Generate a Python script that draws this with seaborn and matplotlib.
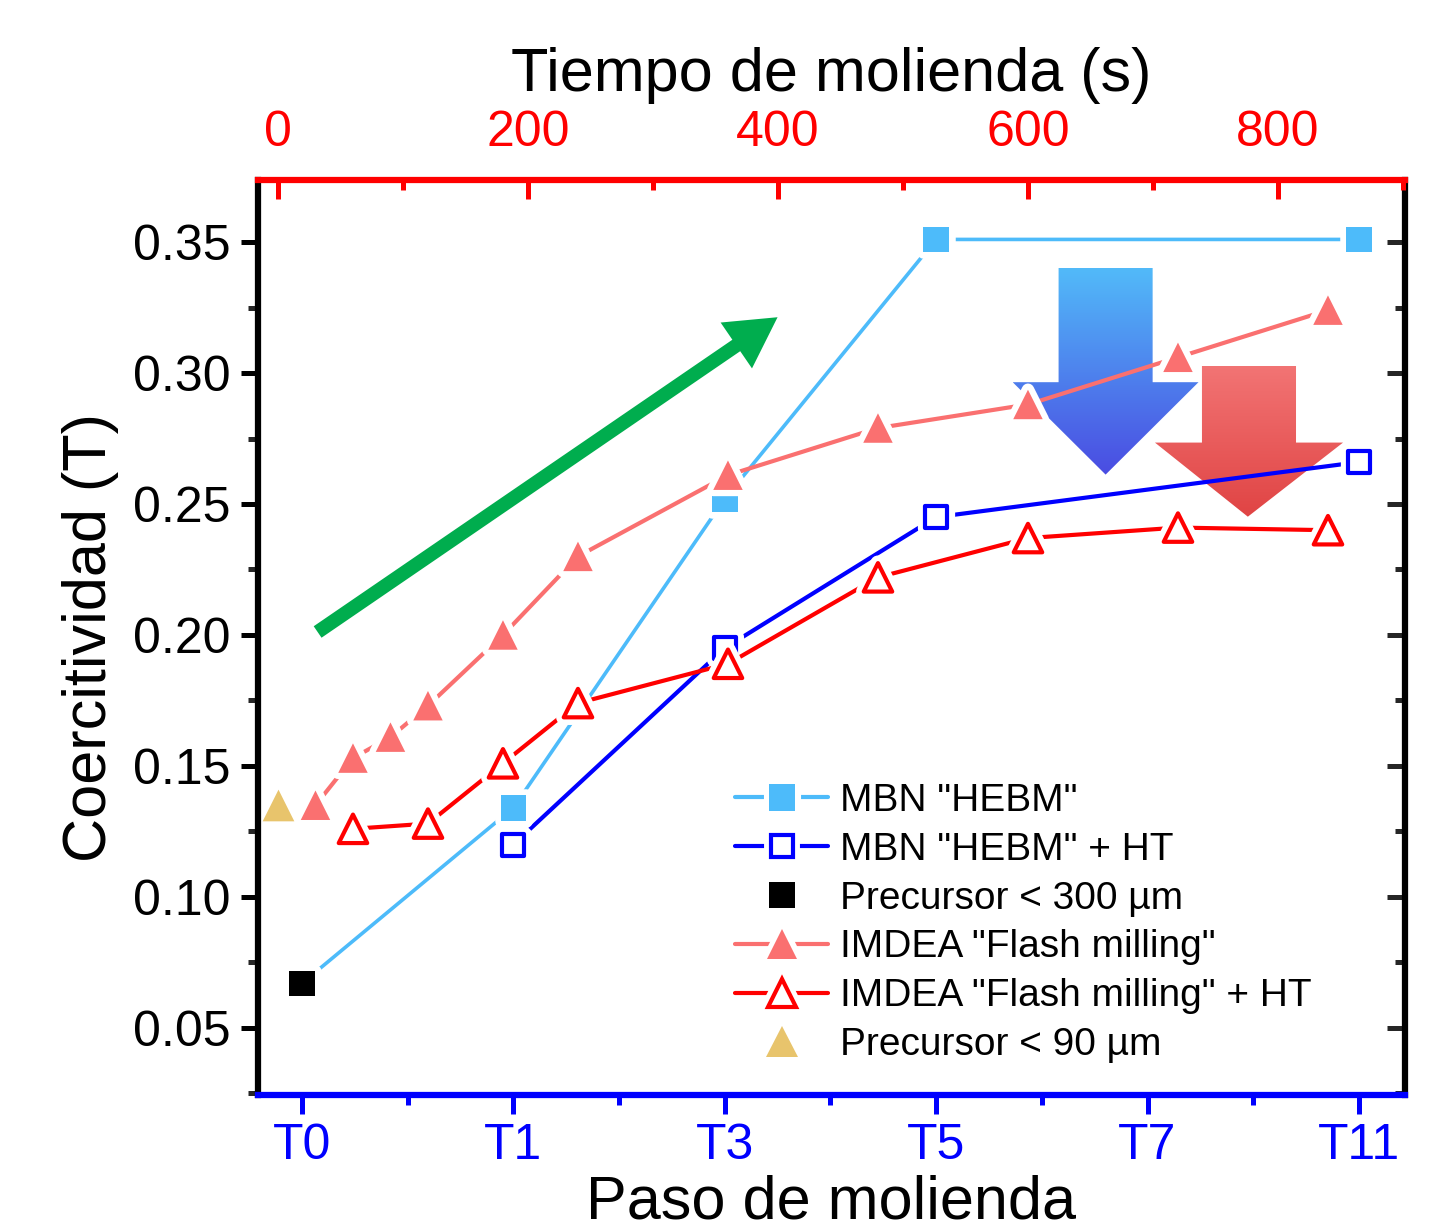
import numpy as np
import matplotlib as mpl
import matplotlib.pyplot as plt
import matplotlib.patheffects as pe
from matplotlib.lines import Line2D
from matplotlib.patches import Polygon
from matplotlib.ticker import MultipleLocator, FixedLocator
from matplotlib.legend_handler import HandlerTuple
import seaborn as sns

# milling steps (bottom axis, evenly spaced categories)
steps = ["T0", "T1", "T3", "T5", "T7", "T11"]

# MBN "HEBM" (starts from the <300 um precursor at T0)
hebm_x = [0, 1, 2, 3, 5]
hebm_y = [0.067, 0.134, 0.252, 0.351, 0.351]

# MBN "HEBM" + HT
hebm_ht_x = [1, 2, 3, 5]
hebm_ht_y = [0.120, 0.195, 0.245, 0.266]

# IMDEA "Flash milling" (top axis, seconds)
flash_t = [30, 60, 90, 120, 180, 240, 360, 480, 600, 720, 840]
flash_y = [0.135, 0.153, 0.161, 0.173, 0.200, 0.230, 0.261, 0.279, 0.288, 0.306, 0.324]

# IMDEA "Flash milling" + HT
flash_ht_t = [60, 120, 180, 240, 360, 480, 600, 720, 840]
flash_ht_y = [0.126, 0.128, 0.151, 0.174, 0.189, 0.222, 0.237, 0.241, 0.240]

# precursors
prec300_x, prec300_y = [0], [0.067]
prec90_t, prec90_y = [0], [0.135]

c_light = "#4DBBFA"
c_blue = "#0000FF"
c_pink = "#FA7070"
c_red = "#FF0000"
c_gold = "#E8C46C"

sns.set_theme(style="ticks")
plt.rcParams["font.family"] = ["Liberation Sans", "DejaVu Sans"]
plt.rcParams["text.color"] = "black"

fig = plt.figure(figsize=(14.3, 12.31), dpi=100)
ax = fig.add_axes([0.1804, 0.1105, 0.8021, 0.7433])
ax2 = ax.twiny()

halo = [pe.withStroke(linewidth=9, foreground="white")]
halo_open = [pe.withStroke(linewidth=11, foreground="white")]

# --- bottom axis series
sns.lineplot(x=hebm_x, y=hebm_y, ax=ax, color=c_light, lw=2.6, sort=False,
             errorbar=None, zorder=2)
sns.lineplot(x=hebm_ht_x, y=hebm_ht_y, ax=ax, color=c_blue, lw=3, sort=False,
             errorbar=None, zorder=2)
sns.scatterplot(x=hebm_x[1:], y=hebm_y[1:], ax=ax, marker="s", s=340,
                color=c_light, linewidth=0, path_effects=halo, zorder=3)
sns.scatterplot(x=hebm_ht_x, y=hebm_ht_y, ax=ax, marker="s", s=250,
                facecolor="white", edgecolor=c_blue, linewidth=3,
                path_effects=halo_open, zorder=3)
sns.scatterplot(x=prec300_x, y=prec300_y, ax=ax, marker="s", s=330,
                color="black", linewidth=0, path_effects=halo, zorder=3)

# --- top axis series
sns.lineplot(x=flash_t, y=flash_y, ax=ax2, color=c_pink, lw=3, sort=False,
             errorbar=None, zorder=2)
sns.lineplot(x=flash_ht_t, y=flash_ht_y, ax=ax2, color=c_red, lw=3, sort=False,
             errorbar=None, zorder=2)
sns.scatterplot(x=flash_t, y=flash_y, ax=ax2, marker="^", s=450,
                color=c_pink, linewidth=0, path_effects=halo, zorder=3)
sns.scatterplot(x=flash_ht_t, y=flash_ht_y, ax=ax2, marker="^", s=420,
                facecolor="white", edgecolor=c_red, linewidth=3,
                path_effects=halo_open, zorder=3)
sns.scatterplot(x=prec90_t, y=prec90_y, ax=ax2, marker="^", s=520,
                color=c_gold, linewidth=0, zorder=3)

# --- decorative arrows (axes fraction coords)
ax.annotate("", xy=(0.453, 0.850), xytext=(0.052, 0.506),
            xycoords="axes fraction", textcoords="axes fraction",
            arrowprops=dict(arrowstyle="simple,head_length=0.72,head_width=0.8,tail_width=0.2",
                            color="#00AD4E", mutation_scale=50, lw=0, shrinkA=0, shrinkB=0),
            zorder=1)


def grad_arrow(shaft_x, top, neck, head_x, tip, c_top, c_bot):
    pts = [(shaft_x[0], top), (shaft_x[1], top), (shaft_x[1], neck), (head_x[1], neck),
           tip, (head_x[0], neck), (shaft_x[0], neck)]
    poly = Polygon(pts, closed=True, transform=ax.transAxes, facecolor="none",
                   edgecolor="none")
    ax.add_patch(poly)
    cmap = mpl.colors.LinearSegmentedColormap.from_list("g", [c_bot, c_top])
    grad = np.linspace(0, 1, 256).reshape(-1, 1)
    im = ax.imshow(grad, cmap=cmap, origin="lower", aspect="auto",
                   extent=[head_x[0], head_x[1], tip[1], top],
                   transform=ax.transAxes, zorder=0.5)
    im.set_clip_path(poly)


grad_arrow((0.698, 0.780), 0.904, 0.779, (0.658, 0.820), (0.739, 0.678), "#52BAF9", "#4A4CE2")
grad_arrow((0.823, 0.905), 0.797, 0.713, (0.782, 0.946), (0.863, 0.632), "#F27474", "#E04444")

# --- limits and ticks
ax.set_xlim(-0.208, 5.218)
ax.set_ylim(0.0244, 0.3737)
ax2.set_xlim(-16, 901.6)
ax2.set_ylim(0.0244, 0.3737)

ax.xaxis.set_major_locator(FixedLocator(range(len(steps))))
ax.set_xticks(range(len(steps)))
ax.set_xticklabels(steps)
ax.xaxis.set_minor_locator(MultipleLocator(0.5))
ax.yaxis.set_major_locator(MultipleLocator(0.05))
ax.yaxis.set_minor_locator(MultipleLocator(0.025))
ax.yaxis.set_major_formatter(mpl.ticker.FormatStrFormatter("%.2f"))

ax2.xaxis.set_major_locator(MultipleLocator(200))
ax2.xaxis.set_minor_locator(MultipleLocator(100))

ax.tick_params(axis="y", which="major", direction="out", length=12, width=3.6,
               labelsize=36, pad=8, left=True, right=False, colors="black")
ax.tick_params(axis="y", which="minor", direction="out", length=7, width=3.6,
               left=True, right=False)
ax.tick_params(axis="x", which="major", direction="out", length=14, width=3.6,
               labelsize=36, pad=6, colors=c_blue, top=False)
ax.tick_params(axis="x", which="minor", direction="out", length=7, width=3.6,
               colors=c_blue, top=False)
ax2.tick_params(axis="x", which="major", direction="in", length=14, width=3.6,
                labelsize=36, pad=17, colors=c_red)
ax2.tick_params(axis="x", which="minor", direction="in", length=7, width=3.6,
                colors=c_red)

sec = ax.secondary_yaxis("right")
sec.yaxis.set_major_locator(MultipleLocator(0.05))
sec.yaxis.set_minor_locator(MultipleLocator(0.025))
sec.tick_params(axis="y", which="major", direction="in", length=13, width=3.6,
                labelright=False)
sec.tick_params(axis="y", which="minor", direction="in", length=7, width=3.6)
sec.spines["right"].set_linewidth(4.5)
sec.spines["right"].set_color("black")

for s in ["top", "right"]:
    ax.spines[s].set_visible(False)
ax.spines["left"].set_color("black")
ax.spines["left"].set_linewidth(4.5)
ax.spines["bottom"].set_color(c_blue)
ax.spines["bottom"].set_linewidth(4.5)
for s in ["left", "right", "bottom"]:
    ax2.spines[s].set_visible(False)
ax2.spines["top"].set_color(c_red)
ax2.spines["top"].set_linewidth(4.5)

ax.set_xlabel("Paso de molienda", fontsize=44, color="black", labelpad=4)
ax.set_ylabel("Coercitividad (T)", fontsize=44, color="black", labelpad=10)
ax2.set_xlabel("Tiempo de molienda (s)", fontsize=44, color="black", labelpad=14)
ax.xaxis.label.set_color("black")
ax2.xaxis.label.set_color("black")


# --- legend (line + haloed marker overlaid, like the gaps in the plot)
def entry(color, marker, ms, filled=True, line=True):
    parts = []
    if line:
        parts.append(Line2D([], [], color=color, lw=3))
    if filled:
        m = Line2D([], [], ls="", marker=marker, ms=ms, color=color, mew=0,
                   path_effects=[pe.withStroke(linewidth=8, foreground="white")])
    else:
        m = Line2D([], [], ls="", marker=marker, ms=ms, mfc="white", mec=color, mew=3,
                   path_effects=[pe.withStroke(linewidth=10, foreground="white")])
    parts.append(m)
    return tuple(parts)


handles = [
    entry(c_light, "s", 19),
    entry(c_blue, "s", 16, filled=False),
    entry("black", "s", 19, line=False),
    entry(c_pink, "^", 22),
    entry(c_red, "^", 20, filled=False),
    entry(c_gold, "^", 23, line=False),
]
labels = ['MBN "HEBM"', 'MBN "HEBM" + HT', "Precursor < 300 µm",
          'IMDEA "Flash milling"', 'IMDEA "Flash milling" + HT', "Precursor < 90 µm"]
ax2.legend(handles, labels, loc="upper left", bbox_to_anchor=(0.416, 0.341),
           frameon=False, fontsize=28, handlelength=2.4, handletextpad=0.3,
           labelspacing=0.33, borderpad=0, borderaxespad=0, labelcolor="black",
           handler_map={tuple: HandlerTuple(ndivide=1, pad=0)})

fig.savefig("out.png", dpi=100)
